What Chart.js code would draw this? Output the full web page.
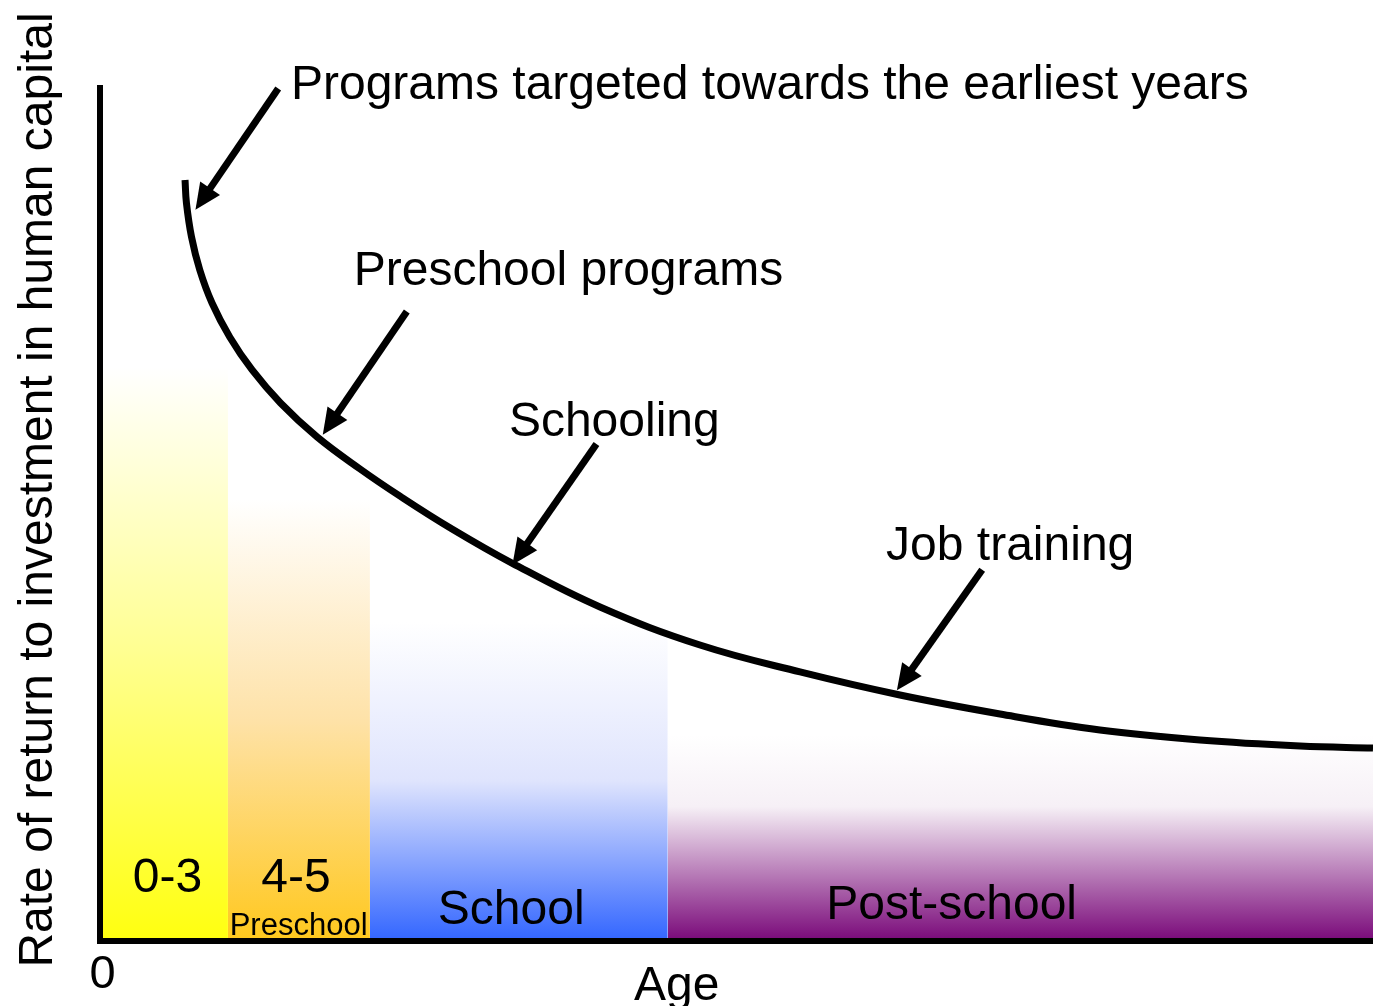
<!DOCTYPE html>
<html>
<head>
<meta charset="utf-8">
<script src="https://cdn.jsdelivr.net/npm/chart.js@4/dist/chart.umd.min.js"></script>
<style>
  body { margin: 0; background: #fff; }
  #wrap { width: 1373px; height: 1006px; position: relative; }
</style>
</head>
<body>
<div id="wrap"><canvas id="grafico"></canvas></div>
<script>
// age bands (x in arbitrary age units 0-100, y = rate of return 0-100)
const bandNames = ['0-3', '4-5', 'School', 'Post-school'];
const bandStart = [0, 10.05, 21.2, 44.6];
const bandEnd = [10.05, 21.2, 44.6, 100];
const bandTop = [67.0, 51.5, 37.2, 24.0];
const bandColors = ['#ffff10', '#ffc81e', '#3366ff', '#7a0a7a'];
const bandMid = ['#ffff90', '#fee2a8', '#dfe4fd', '#f6f0f6'];

// the return curve
const curveAge = [6.68, 6.79, 7.19, 7.84, 8.80, 10.19, 11.95, 14.18, 17.06, 20.43, 23.57, 27.49, 32.36, 39.28, 47.13, 54.99, 62.84, 70.70, 78.55, 86.41, 94.27, 100];
const curveReturn = [88.89, 86.20, 82.22, 78.36, 74.50, 70.53, 66.67, 62.81, 58.83, 55.09, 51.91, 48.22, 44.09, 38.95, 34.50, 31.35, 28.65, 26.43, 24.56, 23.39, 22.69, 22.46];

// arrows: [tailX, tailY, tipX, tipY]
const flechas = [
    [14.0, 99.6, 7.5, 85.4],
    [24.1, 73.5, 17.5, 59.1],
    [39.0, 58.0, 32.4, 43.9],
    [69.3, 43.3, 62.6, 29.2]
];

// texts: [text, x, y(baseline), size, align]
const textos = [
    ['Programs targeted towards the earliest years', 15.0, 98.4, 48, 'left'],
    ['Preschool programs', 36.8, 76.6, 48, 'center'],
    ['Schooling', 40.4, 59.0, 48, 'center'],
    ['Job training', 71.5, 44.4, 48, 'center'],
    ['0-3', 5.3, 5.6, 48, 'center'],
    ['4-5', 15.4, 5.6, 48, 'center'],
    ['Preschool', 15.6, 0.6, 31, 'center'],
    ['School', 32.3, 1.9, 48, 'center'],
    ['Post-school', 66.9, 2.5, 48, 'center'],
    ['0', 0.2, -5.6, 47, 'center'],
    ['Age', 45.3, -7.0, 48, 'center']
];
const tituloY = 'Rate of return to investment in human capital';
const fuente = '"Liberation Sans", Arial, sans-serif';

function degradado(i) {
    return function(context) {
        const chart = context.chart;
        const area = chart.chartArea;
        if (!area) return bandColors[i];
        const yTop = chart.scales.y.getPixelForValue(bandTop[i]);
        const g = chart.ctx.createLinearGradient(0, yTop, 0, area.bottom);
        g.addColorStop(0, '#ffffff');
        g.addColorStop(i === 3 ? 0.35 : 0.5, bandMid[i]);
        g.addColorStop(1, bandColors[i]);
        return g;
    };
}

const datasets = bandNames.map((nombre, i) => ({
    label: nombre,
    data: [{x: bandStart[i], y: bandTop[i]}, {x: bandEnd[i], y: bandTop[i]}],
    borderWidth: 0,
    pointRadius: 0,
    fill: 'origin',
    backgroundColor: degradado(i),
    order: 2
}));

datasets.push({
    label: 'Rate of return',
    data: curveAge.map((a, i) => ({x: a, y: curveReturn[i]})),
    borderColor: '#000',
    borderWidth: 7,
    pointRadius: 0,
    fill: false,
    tension: 0.4,
    clip: 10,
    order: 1
});

const dibujos = {
    id: 'dibujos',
    afterDraw(chart) {
        const c = chart.ctx;
        const sx = chart.scales.x, sy = chart.scales.y;
        const a = chart.chartArea;
        c.save();
        // axes
        c.strokeStyle = '#000';
        c.lineWidth = 6;
        c.beginPath();
        c.moveTo(a.left, a.top);
        c.lineTo(a.left, a.bottom + 3);
        c.moveTo(a.left - 3, a.bottom + 1);
        c.lineTo(a.right, a.bottom + 1);
        c.stroke();

        // arrows
        c.fillStyle = '#000';
        flechas.forEach(f => {
            const x0 = sx.getPixelForValue(f[0]), y0 = sy.getPixelForValue(f[1]);
            const x1 = sx.getPixelForValue(f[2]), y1 = sy.getPixelForValue(f[3]);
            const ang = Math.atan2(y1 - y0, x1 - x0);
            const largo = 26, ancho = 12;
            const bx = x1 - largo * Math.cos(ang), by = y1 - largo * Math.sin(ang);
            c.lineWidth = 7;
            c.beginPath();
            c.moveTo(x0, y0);
            c.lineTo(bx + 4 * Math.cos(ang), by + 4 * Math.sin(ang));
            c.stroke();
            c.beginPath();
            c.moveTo(x1, y1);
            c.lineTo(bx + ancho * Math.sin(ang), by - ancho * Math.cos(ang));
            c.lineTo(bx - ancho * Math.sin(ang), by + ancho * Math.cos(ang));
            c.closePath();
            c.fill();
        });

        // texts
        c.textBaseline = 'alphabetic';
        textos.forEach(t => {
            c.font = t[3] + 'px ' + fuente;
            c.textAlign = t[4];
            c.fillText(t[0], sx.getPixelForValue(t[1]), sy.getPixelForValue(t[2]));
        });

        // y axis title
        c.translate(52, 490);
        c.rotate(-Math.PI / 2);
        c.font = '48px ' + fuente;
        c.textAlign = 'center';
        c.fillText(tituloY, 0, 0);
        c.restore();
    }
};

new Chart(document.getElementById('grafico').getContext('2d'), {
    type: 'line',
    data: { datasets: datasets },
    options: {
        responsive: true,
        maintainAspectRatio: false,
        animation: false,
        layout: { padding: { left: 100, top: 85, right: 0, bottom: 66 } },
        plugins: { legend: { display: false }, tooltip: { enabled: false } },
        scales: {
            x: { type: 'linear', min: 0, max: 100, display: false },
            y: { type: 'linear', min: 0, max: 100, display: false }
        }
    },
    plugins: [dibujos]
});
</script>
</body>
</html>
